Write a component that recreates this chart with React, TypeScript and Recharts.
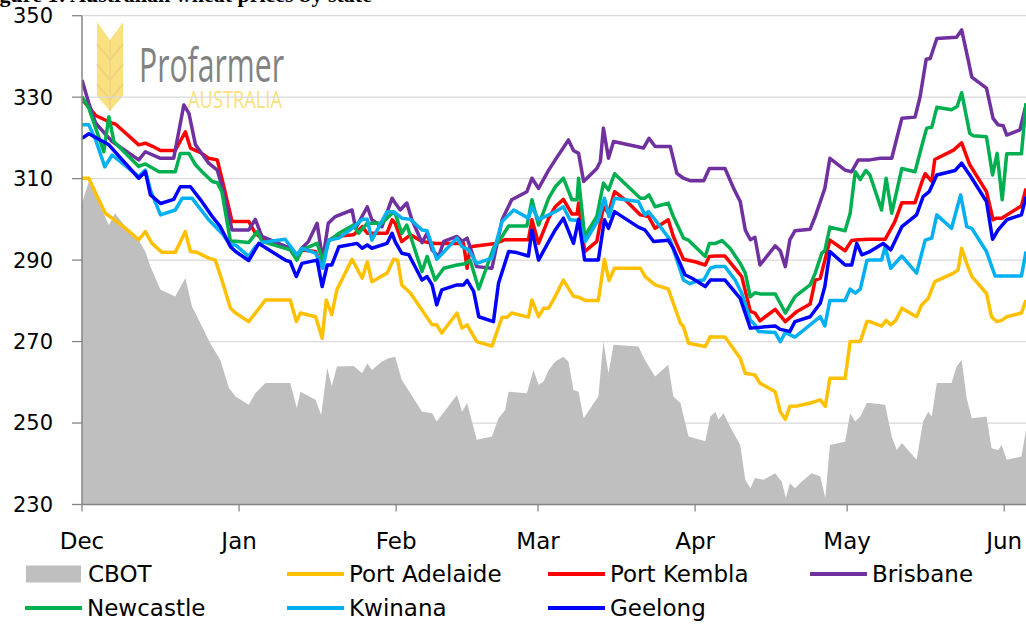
import React from 'react';
import { ComposedChart, Line, Area, XAxis, YAxis, CartesianGrid } from 'recharts';

// x = days since 1 Dec
const monthLabels = ['Dec', 'Jan', 'Feb', 'Mar', 'Apr', 'May', 'Jun'];
const monthStartDays = [0, 31, 62, 90, 121, 151, 182];
const yTicks = [230, 250, 270, 290, 310, 330, 350];

const cbot: [number, number][] = [
  [0, 304], [1.35, 309.3], [3.65, 303.1], [5.3, 298.6], [6.5, 301.5], [8.6, 298.2], [11.2, 294.9], [12.5, 292.1], [13.5, 288.4], [15.5, 282.7], [18.4, 281.05], [20.4, 285.6], [21.7, 278.6], [23.7, 273.7], [25.3, 269.6], [27.3, 265.5], [29, 258.6],
  [30.3, 256.5], [32.9, 254.5], [34.2, 257.3], [36.2, 259.8], [41.1, 259.8], [42.4, 253.6], [43.1, 257.7], [46.1, 255.7], [47.2, 252], [48.4, 263.5], [49.3, 259], [50.3, 263.9], [53.6, 264.0], [55.3, 262.2], [56.3, 264.7], [57.2, 263.0], [59.2, 265.1], [60.5, 265.9],
  [61.8, 266.3], [63.1, 260.6], [64.8, 257.3], [67.1, 252.8], [69.1, 252.4], [70.0, 250.4], [74.0, 256.9], [75.0, 252.8], [76.0, 254.9], [77.9, 245.9], [80.9, 246.7], [82.2, 251.2], [83.5, 253.2], [84.2, 257.7], [87.8, 257.3], [89.1, 263.0], [90.1, 259.4], [91.1, 260.2], [92.1, 263.0],
  [93.4, 265.1], [95.0, 266.3], [96.0, 265.1], [97.0, 258.1], [98.0, 257.7], [99.0, 251.2], [101.9, 256.5], [102.9, 270.0], [103.9, 262.2], [104.9, 269.2], [109.8, 268.8], [111.1, 265.5], [113.1, 261.4], [115.7, 264.3], [116.7, 256.5], [118.1, 254.9], [119.7, 246.7], [123.0, 245.5], [124.0, 251.6],
  [125.0, 252.8], [125.6, 250.8], [126.6, 252.4], [127.9, 249.1], [129.9, 244.6], [130.9, 236.1], [131.9, 234.0], [132.8, 236.5], [134.5, 236.1], [136.8, 237.7], [138.1, 235.6], [138.9, 231.6], [139.7, 235.2], [140.7, 234.0], [142.0, 235.6], [144.0, 237.7], [145.7, 236.9], [146.7, 231.6], [147.6, 244.6], [150.6, 245.4], [151.6, 252.4], [152.6, 250.4], [153.6, 251.6], [154.9, 254.9],
  [155.5, 254.9], [158.5, 254.5], [159.8, 246.7], [160.8, 243.4], [161.8, 245.1], [164.7, 241.0], [166.0, 250.4], [167.0, 252.8], [167.7, 251.6], [168.7, 259.8], [171.6, 259.8], [172.6, 263.9], [173.6, 265.5], [174.6, 256.1], [175.6, 251.2], [178.5, 251.6], [179.5, 243.8], [180.8, 243.4], [181.5, 244.6], [182.5, 241.0], [185.4, 241.8], [186.3, 248.3],
];

const portAdelaide: [number, number][] = [
  [0, 310.1], [1.35, 310.1], [2.7, 306.4], [4.6, 301.5], [5.95, 300.3], [8.6, 297.8], [11.2, 295.0], [12.5, 297.0], [13.8, 294.1], [15.8, 291.9], [18.4, 291.9], [20.4, 297.0], [21.4, 292.1], [22.7, 291.9], [25.0, 290.5], [26.3, 290.0], [27.6, 285.1], [29.3, 278.2],
  [30.3, 277.0], [32.9, 274.9], [36.2, 280.2], [41.1, 280.2], [42.3, 274.9], [43.1, 277.0], [46.1, 276.1], [47.4, 270.8], [48.2, 280.2], [49.3, 276.6], [50.3, 282.7], [53.3, 290.2], [55.3, 285.55], [56.3, 289.6], [57.2, 284.7], [60.2, 286.8], [61.5, 290.2],
  [62.3, 290.0], [63.1, 283.9], [64.8, 281.9], [69.1, 274.1], [70.0, 274.1], [71.0, 272.1], [74.0, 277.0], [75.0, 273.3], [76.0, 274.1], [77.9, 270.0], [80.9, 268.9], [82.9, 276.0], [83.9, 276.0], [84.8, 277.0], [88.1, 276.0], [88.8, 280.2], [90.1, 276.1], [91.1, 278.2], [92.1, 278.2],
  [93.4, 281.1], [95.0, 285.1], [97.0, 281.1], [98.0, 280.9], [99.3, 280.1], [101.9, 280.1], [103.1, 290.2], [104.0, 285.0], [105.1, 288.0], [110.2, 288.0], [111.1, 286.0], [113.1, 283.9], [115.7, 282.9], [116.7, 279.4], [118.1, 274.5], [118.7, 273.7], [119.7, 269.6], [123.0, 268.8], [124.0, 271.2],
  [125.0, 271.1], [126.9, 271.1], [129.9, 265.9], [130.9, 262.2], [132.8, 261.8], [133.8, 259.8], [136.8, 257.7], [137.8, 252.8], [138.8, 250.9], [139.7, 254.1], [141.1, 254.2], [144.0, 255.0], [145.7, 255.7], [146.7, 254.1], [147.6, 261.0], [150.6, 261.0], [151.6, 270.0], [153.6, 270.0], [154.9, 274.9],
  [155.5, 274.9], [157.8, 273.8], [158.7, 275.2], [159.6, 274.1], [160.6, 275.2], [161.8, 278.2], [164.7, 276.1], [165.7, 279.0], [167.0, 280.6], [168.3, 284.7], [172.0, 286.8], [172.9, 287.6], [173.6, 292.9], [174.6, 289.2], [175.6, 286.0], [178.5, 281.8], [179.5, 276.1], [180.5, 274.9], [181.5, 275.2], [182.5, 276.1], [185.4, 277.0], [186.3, 280.2],
];

const portKembla: [number, number][] = [
  [0, 329.5], [2.7, 325.5], [5.95, 323.6], [6.6, 323.4], [11.2, 318.3], [12.5, 318.7], [13.8, 318.0], [15.5, 316.9], [18.4, 316.9], [20.4, 321.5], [21.4, 317.5], [23.4, 316.4], [25.0, 315.0], [26.7, 314.6], [28.0, 308.0], [29.6, 299.5],
  [30.3, 299.5], [32.9, 299.5], [34.2, 296.6], [36.2, 294.6], [41.1, 292.9], [42.4, 290.5], [43.4, 292.5], [46.1, 292.1], [47.2, 288.8], [48.4, 294.6], [50.0, 295.8], [53.6, 296.2], [55.3, 298.2], [56.3, 296.6], [57.2, 296.6], [60.2, 296.6], [61.2, 299.9],
  [61.8, 299.05], [63.1, 294.55], [64.8, 296.2], [67.1, 294.6], [69.7, 294.1], [75.3, 294.1], [76.0, 288.0], [76.6, 293.3], [81.6, 294.1], [83.5, 295.0], [88.1, 295.0], [88.8, 299.9], [90.1, 294.1], [92.1, 300.3],
  [93.4, 303.1], [95.0, 304.9], [96.7, 301.3], [97.7, 301.3], [98.0, 304.0], [99.2, 292.1], [101.6, 294.6], [102.9, 303.1], [103.9, 301.5], [105.1, 306.8], [107.2, 304.8], [110.2, 301.1], [111.8, 300.7], [113.1, 297.8], [115.7, 299.9], [116.7, 295.8], [118.7, 290.2], [121.0, 289.6], [123.0, 288.8], [123.8, 290.9],
  [125.0, 291.0], [126.9, 291.0], [130.2, 285.95], [131.9, 277.4], [132.8, 277.0], [133.8, 275.1], [136.8, 277.9], [138.8, 274.9], [141.1, 277.4], [143.7, 279.2], [144.7, 285.1], [145.7, 285.5], [147.6, 294.9], [150.6, 292.3], [151.9, 294.8], [153.2, 295.0],
  [155.5, 295.1], [158.5, 295.1], [160.4, 299.4], [161.8, 304.1], [164.4, 304.1], [165.7, 309.0], [166.4, 311.2], [167.7, 309.3], [168.3, 314.7], [172.0, 317.0], [173.6, 318.8], [175.2, 313.4], [178.5, 306.8], [179.8, 299.9], [180.5, 300.3], [181.5, 300.3], [185.4, 303.3], [186.3, 307.6],
];

const brisbane: [number, number][] = [
  [0, 334.2], [1.35, 328.5], [2.7, 323.6], [5.95, 319.1], [11.2, 314.6], [12.5, 316.6], [15.5, 315.0], [18.1, 315.0], [20.1, 328.1], [21.1, 326.0], [22.4, 318.3], [25.0, 313.8], [26.7, 312.1], [28.0, 306.4], [29.6, 297.4],
  [30.3, 297.4], [32.9, 297.4], [34.2, 300.0], [35.5, 295.8], [41.1, 292.9], [42.4, 290.9], [43.4, 292.9], [44.7, 294.6], [46.4, 299.05], [47.5, 290.0], [48.6, 299.05], [50.0, 300.7], [53.3, 302.3], [54.0, 297.8], [56.3, 303.1], [57.2, 299.9], [59.2, 298.2], [61.2, 305.2],
  [61.8, 304.0], [62.8, 302.3], [64.1, 304.0], [65.1, 299.9], [67.1, 294.3], [68.1, 296.6], [69.1, 292.5], [70.4, 290.9], [71.4, 294.6], [74.0, 295.8], [75.0, 294.6], [76.0, 295.4], [77.9, 288.4], [80.9, 288.0], [82.9, 299.9], [84.8, 304.8], [87.8, 306.8], [88.8, 310.1], [90.1, 307.6], [92.1, 312.1],
  [93.4, 314.6], [96.0, 319.5], [97.0, 316.9], [98.0, 316.2], [99.0, 309.3], [101.6, 312.5], [102.3, 314.2], [102.9, 322.4], [103.9, 315.0], [104.9, 319.1], [110.8, 317.5], [111.9, 319.9], [113.1, 317.9], [116.1, 317.9], [117.4, 311.3], [118.7, 310.1], [120.0, 309.5], [122.7, 309.5], [123.8, 312.5],
  [125.0, 312.5], [126.9, 312.5], [128.6, 307.6], [129.9, 304.4], [130.9, 297.4], [131.9, 295.0], [132.8, 295.6], [133.8, 288.8], [136.8, 293.5], [137.8, 292.3], [138.8, 288.4], [139.7, 295.0], [140.7, 297.2], [143.7, 297.6], [144.7, 300.7], [146.6, 307.6], [147.6, 315.0], [150.6, 312.1], [151.9, 311.7], [153.2, 314.6],
  [155.5, 314.6], [157.5, 315.0], [159.8, 315.0], [161.8, 324.8], [164.4, 325.1], [165.4, 330.1], [166.6, 339.3], [167.4, 339.5], [168.7, 344.4], [172.6, 344.7], [173.6, 346.5], [174.9, 339.1], [175.6, 334.9], [178.5, 332.2], [179.8, 324.8], [180.8, 323.2], [181.8, 323.0], [182.5, 320.7], [185.1, 322.0], [186.3, 328.1],
];

const newcastle: [number, number][] = [
  [0, 330.1], [1.35, 327.3], [4.3, 316.6], [5.3, 325.2], [6.3, 319.1], [11.2, 313.0], [12.5, 313.6], [15.2, 311.7], [18.4, 311.7], [19.4, 316.2], [21.1, 316.2], [22.4, 313.4], [23.7, 311.7], [25.7, 309.3], [26.7, 309.0], [27.6, 306.8], [29.3, 294.6],
  [30.3, 294.6], [32.9, 294.3], [34.6, 297.0], [35.5, 294.6], [41.1, 292.5], [42.4, 290.0], [43.4, 292.5], [46.4, 294.1], [47.5, 290.0], [48.7, 294.6], [50.7, 296.6], [53.6, 298.6], [54.6, 296.6], [56.3, 299.05], [59.2, 299.05], [61.2, 301.5],
  [61.8, 301.5], [63.1, 296.6], [64.1, 298.6], [65.4, 293.7], [67.1, 287.2], [68.1, 290.9], [69.7, 285.1], [71.4, 288.0], [74.0, 288.8], [75.6, 289.1], [76.6, 290.0], [78.3, 282.9], [81.2, 292.9], [82.9, 295.8], [84.2, 298.4], [87.8, 298.4], [88.8, 304.8], [90.1, 298.6], [92.1, 305.2],
  [93.4, 308.0], [95.0, 310.1], [96.7, 304.8], [97.7, 304.8], [98.0, 310.1], [99.2, 295.8], [101.6, 300.7], [102.9, 308.9], [103.9, 307.2], [105.1, 311.2], [110.2, 305.2], [111.1, 305.2], [111.9, 306.0], [113.1, 303.1], [115.7, 304.0], [116.7, 300.7], [118.7, 295.4], [119.7, 294.9], [123.0, 290.9], [123.8, 294.1],
  [125.0, 294.1], [126.3, 294.8], [127.9, 292.9], [129.9, 289.2], [130.9, 286.8], [131.9, 281.0], [132.8, 282.0], [133.8, 281.7], [136.8, 281.7], [137.8, 279.4], [138.8, 277.0], [140.7, 281.0], [141.7, 282.0], [143.7, 283.9], [144.7, 286.8], [146.0, 291.7], [146.6, 292.3], [147.6, 298.1], [150.6, 297.2], [151.6, 301.5], [152.6, 311.7], [153.6, 309.8], [154.7, 312.0],
  [155.5, 310.9], [157.8, 302.3], [158.7, 310.1], [159.8, 301.5], [161.8, 312.5], [164.4, 311.7], [165.7, 317.9], [166.7, 322.4], [167.7, 322.6], [168.7, 327.5], [171.6, 326.9], [172.7, 327.7], [173.6, 331.1], [175.2, 321.1], [175.9, 320.5], [178.5, 320.3], [179.7, 310.9], [180.6, 316.2], [181.6, 304.8], [182.5, 316.1], [185.4, 316.1], [186.3, 328.5],
];

const kwinana: [number, number][] = [
  [0, 323.2], [1.35, 323.2], [2.7, 319.5], [4.5, 312.9], [5.95, 315.8], [11.2, 310.5], [12.5, 312.1], [13.5, 307.2], [15.5, 301.1], [18.4, 302.3], [19.8, 305.2], [21.7, 305.2], [25.0, 299.9], [27.6, 296.6], [29.3, 293.7],
  [30.3, 293.7], [32.9, 290.9], [34.2, 293.3], [35.5, 294.3], [40.1, 295.1], [42.4, 291.3], [43.4, 292.9], [46.1, 291.7], [47.5, 288.0], [48.7, 294.9], [50.7, 295.4], [53.3, 297.8], [55.3, 300.0], [56.3, 300.0], [57.2, 294.9], [60.2, 301.9], [61.5, 301.9],
  [63.1, 300.3], [64.8, 300.0], [67.1, 297.4], [68.1, 297.2], [70.0, 290.2], [74.0, 295.4], [75.0, 293.3], [76.3, 292.5], [77.9, 289.2], [80.9, 290.5], [82.9, 299.5], [85.2, 302.3], [88.1, 300.3], [88.8, 303.1], [90.1, 299.9], [92.1, 301.1],
  [93.4, 301.9], [95.0, 303.1], [96.3, 299.9], [98.0, 299.7], [99.3, 294.55], [101.9, 299.9], [103.1, 305.2], [104.0, 300.7], [105.1, 305.2], [109.8, 304.4], [111.1, 301.1], [111.8, 301.9], [113.1, 299.9], [116.1, 294.9], [118.7, 285.1], [120.0, 284.2], [121.7, 285.0], [122.7, 285.1], [124.0, 288.0],
  [125.0, 288.4], [126.9, 288.4], [128.9, 285.1], [130.2, 281.9], [131.9, 275.3], [132.8, 274.1], [133.5, 272.5], [136.8, 272.2], [137.8, 270.0], [138.8, 272.2], [140.7, 271.1], [143.7, 274.1], [145.7, 276.1], [146.6, 273.85], [147.6, 280.1], [150.6, 280.1], [151.6, 282.9], [152.6, 281.9], [153.6, 282.9], [154.9, 289.9],
  [155.5, 290.0], [157.8, 290.0], [158.5, 293.3], [159.6, 288.0], [161.8, 291.0], [164.7, 286.8], [166.4, 294.9], [167.7, 295.4], [168.7, 301.1], [171.6, 297.8], [173.4, 306.0], [174.6, 298.2], [175.6, 297.8], [178.5, 292.1], [180.2, 286.1], [185.4, 286.1], [186.3, 292.1],
];

const geelong: [number, number][] = [
  [0, 319.9], [1.35, 321.0], [5.3, 318.3], [11.2, 310.1], [12.5, 311.7], [13.5, 306.0], [15.5, 303.9], [18.1, 304.9], [19.4, 308.0], [21.4, 308.0], [23.4, 304.8], [25.7, 300.7], [27.3, 298.2], [29.3, 293.3],
  [30.3, 292.1], [32.9, 289.9], [34.9, 294.1], [40.1, 290.0], [41.1, 289.6], [42.3, 285.96], [43.4, 289.2], [46.4, 290.0], [47.4, 283.5], [48.4, 288.8], [49.3, 288.8], [50.7, 293.3], [54.3, 294.1], [55.3, 292.9], [56.3, 293.7], [57.2, 292.9], [60.2, 294.1], [61.2, 296.6],
  [61.8, 294.55], [63.1, 291.7], [64.5, 291.3], [67.1, 285.1], [68.1, 285.96], [69.1, 283.9], [70.0, 279.0], [71.0, 282.7], [74.0, 283.9], [75.3, 283.9], [76.0, 285.0], [77.3, 282.3], [78.3, 276.1], [81.2, 274.9], [82.2, 284.3], [84.2, 292.1], [85.8, 291.85], [88.1, 291.0], [88.8, 297.4], [90.1, 290.0], [92.1, 294.55],
  [93.4, 297.4], [95.0, 300.3], [97.0, 294.1], [98.0, 300.0], [99.2, 290.0], [101.9, 290.0], [103.1, 299.9], [103.9, 297.8], [105.1, 301.9], [109.8, 298.1], [111.1, 297.4], [112.8, 294.55], [115.7, 294.9], [116.7, 292.9], [119.0, 286.4], [120.4, 285.55], [123.0, 283.5], [124.0, 285.1],
  [125.0, 285.1], [126.9, 285.1], [129.9, 280.6], [131.9, 273.3], [136.8, 273.85], [137.8, 273.0], [139.7, 272.5], [140.7, 274.9], [143.7, 276.1], [145.7, 279.4], [146.6, 283.5], [147.6, 292.1], [150.6, 288.8], [151.9, 288.8], [152.9, 294.1], [153.9, 291.3],
  [155.5, 292.1], [158.1, 294.1], [159.6, 292.5], [161.8, 298.2], [164.7, 301.1], [166.0, 305.6], [167.2, 306.8], [168.7, 310.9], [172.3, 312.0], [173.6, 313.8], [175.2, 310.9], [178.5, 304.4], [179.7, 295.1], [180.8, 297.4], [182.5, 299.9], [185.4, 301.1], [186.3, 305.6],
];

const lineSeries = [
  { name: 'Port Adelaide', color: '#FFC000', points: portAdelaide },
  { name: 'Port Kembla', color: '#FF0000', points: portKembla },
  { name: 'Brisbane', color: '#7030A0', points: brisbane },
  { name: 'Newcastle', color: '#00B050', points: newcastle },
  { name: 'Kwinana', color: '#00B0F0', points: kwinana },
  { name: 'Geelong', color: '#0000FF', points: geelong },
];

const toRows = (pts: [number, number][]) => pts.map(([d, v]) => ({ d, v }));

const FONT = 'DejaVu Sans, sans-serif';

const legendItems = [
  { name: 'CBOT', color: '#BFBFBF', area: true, x: 26, y: 574 },
  { name: 'Port Adelaide', color: '#FFC000', area: false, x: 287, y: 574 },
  { name: 'Port Kembla', color: '#FF0000', area: false, x: 548, y: 574 },
  { name: 'Brisbane', color: '#7030A0', area: false, x: 810, y: 574 },
  { name: 'Newcastle', color: '#00B050', area: false, x: 25, y: 608 },
  { name: 'Kwinana', color: '#00B0F0', area: false, x: 287, y: 608 },
  { name: 'Geelong', color: '#0000FF', area: false, x: 548, y: 608 },
];

export default function App() {
  return (
    <div style={{ position: 'absolute', left: 0, top: 0, width: 1026, height: 624, background: '#fff', overflow: 'hidden' }}>
      <svg width={1026} height={624} style={{ position: 'absolute', left: 0, top: 0 }}>
        <text x={-20} y={2} fontFamily="Liberation Serif, serif" fontWeight="bold" fontSize={22} fill="#000">
          Figure 1: Australian wheat prices by state
        </text>
        <g opacity={0.85}>
          <polygon points="97,22 110,40 123,22 123,96 110,111 97,96" fill="#F9DB6A" />
          <polyline points="97,44 110,60 123,44" fill="none" stroke="#EFCB6A" strokeWidth={2} />
          <polyline points="97,64 110,80 123,64" fill="none" stroke="#EFCB6A" strokeWidth={2} />
          <polyline points="97,84 110,100 123,84" fill="none" stroke="#EFCB6A" strokeWidth={2} />
          <line x1={110} y1={40} x2={110} y2={111} stroke="#EFCB6A" strokeWidth={1.5} />
        </g>
        <text x={139} y={82} fontFamily="Open Sans, sans-serif" fontSize={47} fill="#828282" textLength={145} lengthAdjust="spacingAndGlyphs">
          Profarmer
        </text>
        <text x={188} y={108} fontFamily="Open Sans, sans-serif" fontSize={24} fill="#FBE07A" textLength={94} lengthAdjust="spacingAndGlyphs">
          AUSTRALIA
        </text>
      </svg>
      <div style={{ position: 'absolute', left: 0, top: 0 }}>
        <ComposedChart width={1026} height={624} margin={{ top: 15.7, right: 0, bottom: 59.5, left: 0 }}>
          <CartesianGrid vertical={false} stroke="#D9D9D9" strokeWidth={1.3} />
          <XAxis
            type="number"
            dataKey="d"
            domain={[0, 186.3]}
            allowDataOverflow
            ticks={monthStartDays}
            interval={0}
            tickFormatter={(v: number) => monthLabels[monthStartDays.indexOf(v)]}
            height={60}
            tickSize={7}
            tickMargin={21}
            axisLine={{ stroke: '#868686', strokeWidth: 1.5 }}
            tickLine={{ stroke: '#868686', strokeWidth: 1.3 }}
            tick={{ fill: '#000', fontSize: 23, fontFamily: FONT }}
          />
          <YAxis
            type="number"
            domain={[230, 350]}
            ticks={yTicks}
            interval={0}
            width={82}
            tickSize={10}
            tickMargin={19}
            axisLine={{ stroke: '#868686', strokeWidth: 1.5 }}
            tickLine={{ stroke: '#868686', strokeWidth: 1.3 }}
            tick={{ fill: '#000', fontSize: 21, fontFamily: FONT }}
          />
          <Area
            data={toRows(cbot)}
            dataKey="v"
            name="CBOT"
            type="linear"
            fill="#BFBFBF"
            fillOpacity={1}
            stroke="none"
            isAnimationActive={false}
          />
          {lineSeries.map((s) => (
            <Line
              key={s.name}
              data={toRows(s.points)}
              dataKey="v"
              name={s.name}
              type="linear"
              stroke={s.color}
              strokeWidth={3.5}
              strokeLinejoin="round"
              dot={false}
              activeDot={false}
              isAnimationActive={false}
            />
          ))}
        </ComposedChart>
      </div>
      <svg width={1026} height={624} style={{ position: 'absolute', left: 0, top: 0, pointerEvents: 'none' }}>
        {legendItems.map((it) =>
          <g key={it.name}>
            {it.area ? (
              <rect x={it.x} y={it.y - 8.5} width={55} height={17} fill={it.color} />
            ) : (
              <rect x={it.x} y={it.y - 2} width={57} height={4} fill={it.color} />
            )}
            <text x={it.x + 62} y={it.y + 8.3} fontFamily={FONT} fontSize={23} fill="#000">
              {it.name}
            </text>
          </g>
        )}
      </svg>
    </div>
  );
}
